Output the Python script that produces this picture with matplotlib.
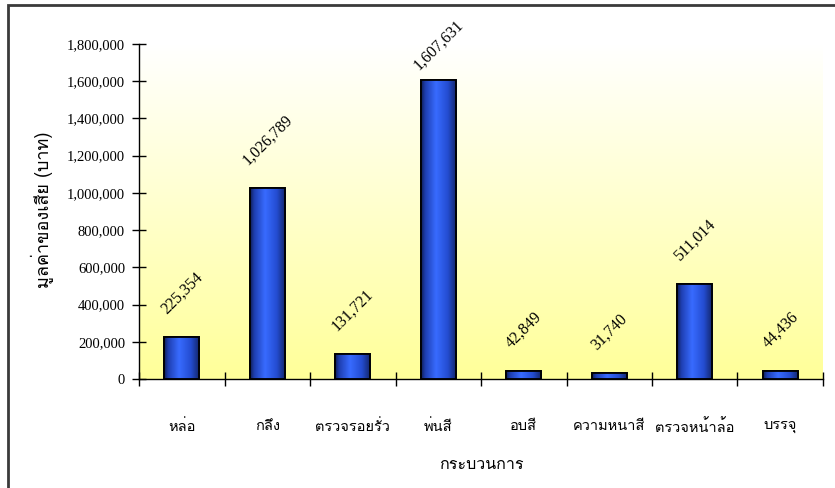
import numpy as np
import matplotlib
matplotlib.use("Agg")
import matplotlib.pyplot as plt
from matplotlib import font_manager
from matplotlib.ft2font import FT2Font
from matplotlib.patches import Rectangle
from matplotlib.ticker import FuncFormatter, FixedLocator

categories = ["หล่อ", "กลึง", "ตรวจรอยรั่ว", "พ่นสี", "อบสี", "ความหนาสี", "ตรวจหน้าล้อ", "บรรจุ"]
values = [225354, 1026789, 131721, 1607631, 42849, 31740, 511014, 44436]
y_ticks = [0, 200000, 400000, 600000, 800000, 1000000, 1200000, 1400000, 1600000, 1800000]
x_title = "กระบวนการ"
y_title = "มูลค่าของเสีย (บาท)"


def thai_family():
    """Pick an installed family that covers the Thai block."""
    found = []
    for f in font_manager.fontManager.ttflist:
        try:
            cmap = FT2Font(f.fname).get_charmap()
        except Exception:
            continue
        if 0x0E01 in cmap and 0x0E2A in cmap:
            found.append(f.name)
    prefs = ["Norasi", "Kinnari", "TH Sarabun", "Laksaman", "Garuda", "Loma", "Noto Serif Thai", "Noto Sans Thai"]
    for p in prefs:
        for n in found:
            if p.lower() in n.lower():
                return n
    return found[0] if found else "DejaVu Sans"


THAI = thai_family()
NUM = "Liberation Serif"
thai_fam = [THAI, "DejaVu Sans"]

W, H = 835, 488
fig = plt.figure(figsize=(W / 100, H / 100), dpi=100)
fig.patch.set_facecolor("white")

# outer chart frame (runs past the right and bottom edges)
fig.add_artist(Rectangle((8 / W, -0.2), 1.2, 1.2 - 5 / H, transform=fig.transFigure,
                         fill=False, edgecolor="#3a3a3a", linewidth=2.0))

left, right, bottom, top = 139 / W, 823 / W, 1 - 379 / H, 1 - 44 / H
ax = fig.add_axes([left, bottom, right - left, top - bottom])
n = len(categories)

# plot-area background: white at the top fading to pale yellow
grad = np.linspace(0, 1, 256)[:, None]
c_top = np.array([1.0, 1.0, 1.0])
c_bot = np.array([1.0, 1.0, 0.60])
bg = c_top[None, None, :] * (1 - grad[:, :, None]) + c_bot[None, None, :] * grad[:, :, None]
ax.imshow(bg, extent=[-0.5, n - 0.5, 0, 1800000], origin="upper", aspect="auto",
          zorder=0, interpolation="bilinear")

# bars with a horizontal cylinder shading
xs = np.arange(n)
bar_w = 0.41
bars = ax.bar(xs, values, width=bar_w, color="#2f5fe8", edgecolor="black",
              linewidth=1.3, zorder=2)
stops = np.array([0.0, 0.12, 0.42, 0.75, 1.0])
cols = np.array([[0.06, 0.12, 0.35],
                 [0.12, 0.25, 0.70],
                 [0.22, 0.42, 1.00],
                 [0.14, 0.30, 0.82],
                 [0.07, 0.14, 0.40]])
t = np.linspace(0, 1, 64)
shade = np.stack([np.interp(t, stops, cols[:, k]) for k in range(3)], axis=-1)[None, :, :]
for b in bars:
    x0, w, h = b.get_x(), b.get_width(), b.get_height()
    im = ax.imshow(shade, extent=[x0, x0 + w, 0, h], aspect="auto", zorder=2.5,
                   interpolation="bilinear")
    im.set_clip_path(b)
    ax.add_patch(Rectangle((x0, 0), w, h, fill=False, edgecolor="black",
                           linewidth=1.3, zorder=3))
ax.set_xlim(-0.5, n - 0.5)
ax.set_ylim(0, 1800000)

# value labels above bars
for x, v in zip(xs, values):
    ly = min(v + 107000, 1645000)
    ax.text(x, ly, f"{v:,}", rotation=45, ha="center", va="bottom",
            fontsize=11.5, family=NUM, zorder=4)

# axes styling
for s in ["top", "right"]:
    ax.spines[s].set_visible(False)
ax.spines["left"].set_linewidth(1.0)
ax.spines["bottom"].set_linewidth(1.0)

ax.yaxis.set_major_locator(FixedLocator(y_ticks))
ax.yaxis.set_major_formatter(FuncFormatter(lambda v, p: f"{int(v):,}"))
ax.tick_params(axis="y", direction="inout", length=10, width=1.0, pad=5)
for lab in ax.get_yticklabels():
    lab.set_family(NUM)
    lab.set_fontsize(10.5)

ax.set_xticks(xs)
ax.set_xticklabels(categories, family=thai_fam, fontsize=10.5)
ax.tick_params(axis="x", which="major", length=0, pad=29)
ax.xaxis.set_minor_locator(FixedLocator(np.arange(-0.5, n, 1.0)))
ax.tick_params(axis="x", which="minor", direction="inout", length=10, width=1.0)

fig.text(481 / W, 1 - 465 / H, x_title, ha="center", va="center",
         family=thai_fam, fontsize=11.5)
fig.text(42 / W, 1 - 210 / H, y_title, ha="center", va="center", rotation=90,
         family=thai_fam, fontsize=13)

fig.savefig("out.png", dpi=100)
